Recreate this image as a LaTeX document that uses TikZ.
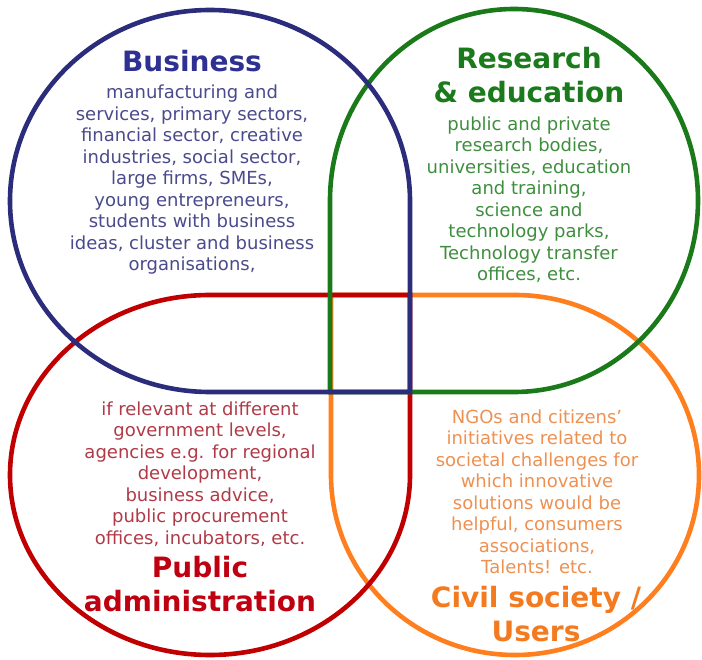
\documentclass[tikz,border=0pt]{standalone}
\usepackage{fontspec}
\setmainfont{DejaVu Sans}
\definecolor{bizline}{HTML}{2B2D7C}
\definecolor{bizhead}{HTML}{2E3192}
\definecolor{biztext}{HTML}{4A4A8C}
\definecolor{resline}{HTML}{1A7A1A}
\definecolor{reshead}{HTML}{1B7A1B}
\definecolor{restext}{HTML}{3E8E3E}
\definecolor{publine}{HTML}{C00000}
\definecolor{pubhead}{HTML}{BF0010}
\definecolor{pubtext}{HTML}{B03A48}
\definecolor{civline}{HTML}{FF7F1E}
\definecolor{civhead}{HTML}{F47A20}
\definecolor{civtext}{HTML}{EE9050}
\tikzset{
  lobe/.style={line width=4.6pt, line join=miter},
  bodytext/.style={inner sep=0pt, align=center, font={\fontsize{18}{21.5}\selectfont}},
  headtext/.style={inner sep=0pt, align=center, font={\fontsize{28}{34}\selectfont\bfseries}},
}
\begin{document}
\begin{tikzpicture}[x=1pt,y=-1pt]
\useasboundingbox (0,0) rectangle (702,660);
% Civil society (orange): square corner top-left
\draw[lobe, civline] (515,295) arc[start angle=-90, end angle=0, x radius=184, y radius=180]
  arc[start angle=0, end angle=180, x radius=184, y radius=180] -- (331,295) -- cycle;
% Public administration (red): square corner top-right
\draw[lobe, publine] (210,295) arc[start angle=-90, end angle=-180, x radius=200, y radius=180]
  arc[start angle=180, end angle=0, x radius=200, y radius=180] -- (410,295) -- cycle;
% Research (green): square corner bottom-left
\draw[lobe, resline] (330,200.5) arc[start angle=180, end angle=360, x radius=184, y radius=191.5]
  arc[start angle=0, end angle=90, x radius=184, y radius=191.5] -- (330,392) -- cycle;
% Business (blue): square corner bottom-right
\draw[lobe, bizline] (410,201) arc[start angle=0, end angle=-180, x radius=200, y radius=191]
  arc[start angle=180, end angle=90, x radius=200, y radius=191] -- (410,392) -- cycle;

\node[headtext, bizhead, anchor=base] (bizT) at (192,72) {Business};
\node[bodytext, biztext, anchor=north] (bizB) at (192,85) {manufacturing and\\services, primary sectors,\\financial sector, creative\\industries, social sector,\\large firms, SMEs,\\young entrepreneurs,\\students with business\\ideas, cluster and business\\organisations,};

\node[headtext, reshead, anchor=north] (resT) at (529,47.5) {Research\\\& education};
\node[bodytext, restext, anchor=north] (resB) at (529,116.3) {public and private\\research bodies,\\universities, education\\and training,\\science and\\technology parks,\\Technology transfer\\offices, etc.};

\node[bodytext, pubtext, anchor=north] (pubB) at (200,401.3) {if relevant at different\\government levels,\\agencies e.g. for regional\\development,\\business advice,\\public procurement\\offices, incubators, etc.};
\node[headtext, pubhead, anchor=north] (pubT) at (200,555.7) {Public\\administration};

\node[bodytext, civtext, anchor=north] (civB) at (537,409.3) {NGOs and citizens’\\initiatives related to\\societal challenges for\\which innovative\\solutions would be\\helpful, consumers\\associations,\\Talents! etc.};
\node[headtext, civhead, anchor=north] (civT) at (536,585.7) {Civil society /\\Users};
\end{tikzpicture}
\end{document}
